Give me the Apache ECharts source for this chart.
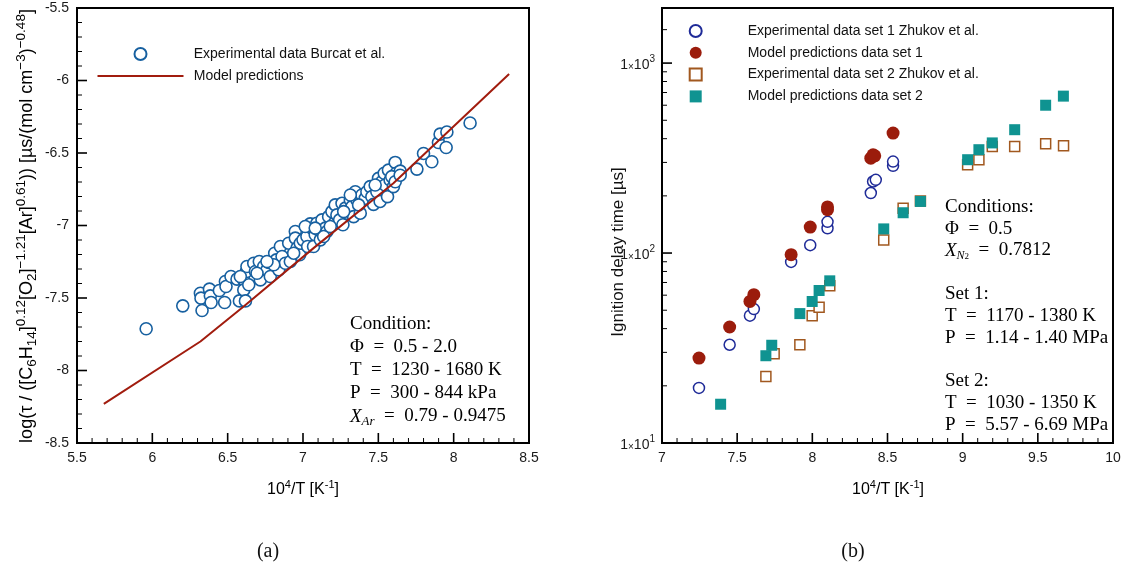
<!DOCTYPE html>
<html><head><meta charset="utf-8">
<script src="https://cdn.jsdelivr.net/npm/echarts@6/dist/echarts.min.js"></script>
<style>
html,body{margin:0;padding:0;background:#fff}
#wrap{position:relative;width:1129px;height:573px}
.layer{position:absolute;left:0;top:0;width:1129px;height:573px}
</style>
</head><body><div id="wrap"><div class="layer" id="cl"></div><div class="layer" id="cr"></div></div>
<script>
// ---------- Panel (a) data ----------
const burcatExp = [
[5.959,-7.712],[6.202,-7.554],[6.330,-7.586],[6.319,-7.467],[6.323,-7.501],[6.379,-7.439],[6.385,-7.485],
[6.390,-7.531],[6.445,-7.448],[6.480,-7.531],[6.485,-7.386],[6.489,-7.421],[6.522,-7.352],[6.562,-7.370],
[6.578,-7.520],[6.607,-7.375],[6.607,-7.444],[6.618,-7.520],[6.624,-7.317],[6.628,-7.283],[6.640,-7.409],
[6.673,-7.260],[6.684,-7.317],[6.710,-7.248],[6.717,-7.375],[6.739,-7.283],[6.761,-7.306],[6.772,-7.255],
[6.783,-7.352],[6.812,-7.191],[6.823,-7.237],[6.839,-7.306],[6.850,-7.145],[6.861,-7.214],[6.883,-7.260],
[6.905,-7.122],[6.916,-7.248],[6.949,-7.041],[6.949,-7.087],[6.960,-7.156],[6.978,-7.202],[6.982,-7.122],
[7.000,-7.099],[7.026,-7.076],[7.031,-7.145],[7.048,-6.989],[7.059,-7.018],[7.070,-7.145],[7.081,-7.064],
[7.092,-6.984],[7.103,-7.030],[7.115,-7.099],[7.126,-6.961],[7.148,-7.018],[7.159,-7.041],[7.170,-6.939],
[7.192,-6.904],[7.208,-6.984],[7.214,-6.858],[7.225,-6.927],[7.243,-6.961],[7.259,-6.847],[7.265,-6.995],
[7.281,-6.880],[7.292,-6.915],[7.314,-6.824],[7.325,-6.870],[7.336,-6.939],[7.347,-6.767],[7.358,-6.824],
[7.380,-6.915],[7.391,-6.790],[7.413,-6.813],[7.424,-6.767],[7.446,-6.732],[7.457,-6.801],[7.468,-6.854],
[7.490,-6.767],[7.501,-6.675],[7.512,-6.834],[7.523,-6.698],[7.539,-6.640],[7.545,-6.721],[7.561,-6.801],
[7.567,-6.618],[7.578,-6.686],[7.600,-6.732],[7.612,-6.565],[7.618,-6.640],[7.645,-6.625],[7.756,-6.611],
[7.800,-6.503],[7.855,-6.560],[7.899,-6.428],[7.910,-6.370],[7.950,-6.462],[7.955,-6.355],[8.109,-6.293],
[6.695,-7.329],[6.806,-7.271],[6.938,-7.191],[7.015,-7.007],[7.137,-7.076],[7.181,-7.007],[7.270,-6.904],
[7.369,-6.858],[7.479,-6.721],[7.589,-6.663],[6.584,-7.352],[6.761,-7.248],[7.081,-7.018],[7.314,-6.790],
[7.612,-6.698],[7.645,-6.653]
];
const modelLineX = [5.678, 6.319, 6.606, 7.070, 7.600, 8.368];
const modelLineY = [-8.230, -7.800, -7.559, -7.156, -6.708, -5.955];

// ---------- Panel (b) data ----------
const set1ExpX   = [7.246, 7.450, 7.585, 7.611, 7.859, 7.986, 8.101, 8.101, 8.389, 8.404, 8.422, 8.537, 8.537];
const set1ExpY   = [19.5, 32.9, 46.8, 50.7, 89.8, 110, 135, 146, 207, 238, 243, 288, 303];
const set1ModelX = [7.246, 7.450, 7.585, 7.611, 7.859, 7.986, 8.101, 8.101, 8.389, 8.404, 8.415, 8.537];
const set1ModelY = [28.0, 40.8, 55.6, 60.4, 98, 137, 169, 175, 316, 329, 325, 428];
const set2ExpX   = [7.691, 7.746, 7.917, 7.999, 8.045, 8.116, 8.475, 8.604, 8.719, 9.033, 9.108, 9.197, 9.346, 9.552, 9.671];
const set2ExpY   = [22.4, 29.5, 32.9, 46.8, 51.8, 67.3, 117, 172, 188, 292, 310, 364, 364, 376, 367];
const set2ModelX = [7.390, 7.691, 7.730, 7.917, 7.999, 8.045, 8.116, 8.475, 8.604, 8.719, 9.033, 9.108, 9.197, 9.346, 9.552, 9.670];
const set2ModelY = [16.0, 28.8, 32.7, 48.0, 55.6, 63.5, 71.4, 134, 163, 187, 310, 350, 380, 446, 600, 670];

// ---------- Tick values ----------
const aXMajor = [5.5, 6, 6.5, 7, 7.5, 8, 8.5];
const aXMinor = [5.6,5.7,5.8,5.9,6.1,6.2,6.3,6.4,6.6,6.7,6.8,6.9,7.1,7.2,7.3,7.4,7.6,7.7,7.8,7.9,8.1,8.2,8.3,8.4];
const aYMajor = [-8.5, -8, -7.5, -7, -6.5, -6, -5.5];
const aYMinor = [-8.4,-8.3,-8.2,-8.1,-7.9,-7.8,-7.7,-7.6,-7.4,-7.3,-7.2,-7.1,-6.9,-6.8,-6.7,-6.6,-6.4,-6.3,-6.2,-6.1,-5.9,-5.8,-5.7,-5.6];
const bXMajor = [7, 7.5, 8, 8.5, 9, 9.5, 10];
const bXMinor = [7.1,7.2,7.3,7.4,7.6,7.7,7.8,7.9,8.1,8.2,8.3,8.4,8.6,8.7,8.8,8.9,9.1,9.2,9.3,9.4,9.6,9.7,9.8,9.9];
const bYMajor = [10, 100, 1000];
const bYMinor = [20,30,40,50,60,70,80,90,200,300,400,500,600,700,800,900,1500];

const zip = (a, b) => a.map((v, i) => [v, b[i]]);

const SANS = 'Liberation Sans, Arial, Helvetica, sans-serif';
const SERIF = 'Liberation Serif, Times New Roman, serif';

const lbl = () => ({fontFamily: SANS, fontSize: 14, color: '#1a1a1a', margin: 8});

function valueAxis(min, max, interval) {
  return {type: 'value', min, max, interval,
    axisLine: {show: false}, axisTick: {show: false}, minorTick: {show: false},
    splitLine: {show: false}, minorSplitLine: {show: false}, axisLabel: lbl()};
}

// tick marks drawn through the axes' own scales (api.coord)
function tickSeries(values, dir, anchor, len, width) {
  return {
    type: 'custom', silent: true, clip: false, z: 10,
    data: values.map(v => dir === 'x' ? [v, anchor] : [anchor, v]),
    renderItem: (params, api) => {
      const p = api.coord([api.value(0), api.value(1)]);
      const shape = dir === 'x'
        ? {x1: p[0], y1: p[1], x2: p[0], y2: p[1] - len}
        : {x1: p[0], y1: p[1], x2: p[0] + len, y2: p[1]};
      return {type: 'line', shape, style: {stroke: '#000', lineWidth: width}};
    }
  };
}

const gridL = {left: 77, top: 8, width: 452, height: 435, show: true, borderColor: '#000', borderWidth: 2, backgroundColor: 'transparent'};
const gridR = {left: 662, top: 8, width: 451, height: 435, show: true, borderColor: '#000', borderWidth: 2, backgroundColor: 'transparent'};
const centered = {align: 'center', verticalAlign: 'middle', textAlign: 'center', textVerticalAlign: 'middle'};
const xTitle = (x) => ({
  type: 'text', x, y: 490,
  style: Object.assign({
    text: '{n|10}{p|4}{n|/T [K}{p|-1}{n|]}',
    rich: {
      n: {fontFamily: SANS, fontSize: 16, color: '#111', lineHeight: 22, verticalAlign: 'middle'},
      p: {fontFamily: SANS, fontSize: 11, color: '#111', lineHeight: 10, verticalAlign: 'top'}
    }
  }, centered)
});

// ---------------- Panel (a) ----------------
const chartL = echarts.init(document.getElementById('cl'));
chartL.setOption({
  animation: false,
  backgroundColor: '#fff',
  grid: gridL,
  xAxis: valueAxis(5.5, 8.5, 0.5),
  yAxis: valueAxis(-8.5, -5.5, 0.5),
  legend: {
    orient: 'vertical', left: 92.5, top: 42, itemWidth: 86.5, itemHeight: 12, itemGap: 8,
    data: ['Experimental data Burcat et al.',
           {name: 'Model predictions', icon: 'path://M0,0 M0,5.1 L86,5.1 L86,6.9 L0,6.9 Z M86,12'}],
    textStyle: {fontFamily: SANS, fontSize: 14, color: '#111', padding: [0, 0, 0, 5]},
    selectedMode: false
  },
  series: [
    {
      name: 'Experimental data Burcat et al.', type: 'scatter',
      data: burcatExp, symbol: 'circle', symbolSize: 12,
      itemStyle: {color: '#fff', borderColor: '#1760a0', borderWidth: 1.6, opacity: 1}
    },
    {
      name: 'Model predictions', type: 'line',
      data: zip(modelLineX, modelLineY), symbol: 'none', showSymbol: false, smooth: false,
      lineStyle: {color: '#a11c0e', width: 2},
      itemStyle: {color: '#a11c0e'}, z: 3
    },
    tickSeries(aXMajor, 'x', -8.5, 10, 1.6),
    tickSeries(aXMinor, 'x', -8.5, 5, 1),
    tickSeries(aYMajor, 'y', 5.5, 10, 1.6),
    tickSeries(aYMinor, 'y', 5.5, 5, 1)
  ],
  graphic: [
    {
      type: 'text', x: 27, y: 226, rotation: Math.PI / 2,
      style: Object.assign({
        text: '{n|log(τ / ([C}{b|6}{n|H}{b|14}{n|]}{p|0.12}{n|[O}{b|2}{n|]}{p|−1.21}{n|[Ar]}{p|0.61}{n|)) [µs/(mol cm}{p|−3}{n|)}{p|−0.48}{n|]}',
        rich: {
          n: {fontFamily: SANS, fontSize: 18, color: '#111', lineHeight: 25, verticalAlign: 'middle'},
          p: {fontFamily: SANS, fontSize: 13.5, color: '#111', lineHeight: 12, verticalAlign: 'top'},
          b: {fontFamily: SANS, fontSize: 13.5, color: '#111', lineHeight: 12, verticalAlign: 'bottom'}
        }
      }, centered)
    },
    xTitle(303),
    {
      type: 'text', x: 350, y: 313,
      style: {
        text: ['{t|Condition:}', '{t|Φ  =  0.5 - 2.0}', '{t|T  =  1230 - 1680 K}', '{t|P  =  300 - 844 kPa}',
               '{i|X}{s|Ar}{t|  =  0.79 - 0.9475}'].join('\n'),
        align: 'left', verticalAlign: 'top', textAlign: 'left', textVerticalAlign: 'top',
        rich: {
          t: {fontFamily: SERIF, fontSize: 19, color: '#111', lineHeight: 23, verticalAlign: 'middle'},
          i: {fontFamily: SERIF, fontStyle: 'italic', fontSize: 19, color: '#111', lineHeight: 23, verticalAlign: 'middle'},
          s: {fontFamily: SERIF, fontStyle: 'italic', fontSize: 13, color: '#111', lineHeight: 14, verticalAlign: 'bottom'}
        }
      }
    },
    {type: 'text', x: 268, y: 552, style: Object.assign({text: '(a)', font: '20px ' + SERIF, fill: '#111'}, centered)}
  ]
});

// ---------------- Panel (b) ----------------
const chartR = echarts.init(document.getElementById('cr'));
chartR.setOption({
  animation: false,
  backgroundColor: 'transparent',
  grid: gridR,
  xAxis: valueAxis(7, 10, 0.5),
  yAxis: {
    type: 'log', min: 10, max: 1950, logBase: 10,
    axisLine: {show: false},
    axisTick: {show: false},
    splitLine: {show: false},
    axisLabel: {
      customValues: bYMajor,
      margin: 7,
      formatter: v => '{a|1}{x|×}{a|10}{s|' + Math.round(Math.log10(v)) + '}',
      rich: {
        a: {fontFamily: SANS, fontSize: 14, color: '#1a1a1a', lineHeight: 18, verticalAlign: 'bottom'},
        x: {fontFamily: SANS, fontSize: 10, color: '#1a1a1a', lineHeight: 16, verticalAlign: 'bottom'},
        s: {fontFamily: SANS, fontSize: 10, color: '#1a1a1a', lineHeight: 10, verticalAlign: 'top'}
      }
    }
  },
  legend: {
    orient: 'vertical', left: 683.7, top: 19, itemWidth: 12, itemHeight: 12, itemGap: 7.8,
    data: ['Experimental data set 1 Zhukov et al.', 'Model predictions data set 1',
           'Experimental data set 2 Zhukov et al.', 'Model predictions data set 2'],
    textStyle: {fontFamily: SANS, fontSize: 14, color: '#111', padding: [0, 0, 0, 41]},
    selectedMode: false
  },
  series: [
    {
      name: 'Experimental data set 1 Zhukov et al.', type: 'scatter',
      data: zip(set1ExpX, set1ExpY), symbol: 'circle', symbolSize: 11,
      itemStyle: {color: '#fff', borderColor: '#1f2b98', borderWidth: 1.5, opacity: 1}
    },
    {
      name: 'Model predictions data set 1', type: 'scatter',
      data: zip(set1ModelX, set1ModelY), symbol: 'circle', symbolSize: 13,
      itemStyle: {color: '#9b1c0c', opacity: 1}
    },
    {
      name: 'Experimental data set 2 Zhukov et al.', type: 'scatter',
      data: zip(set2ExpX, set2ExpY), symbol: 'rect', symbolSize: 10,
      itemStyle: {color: '#fff', borderColor: '#a1581f', borderWidth: 1.5, opacity: 1}
    },
    {
      name: 'Model predictions data set 2', type: 'scatter',
      data: zip(set2ModelX, set2ModelY), symbol: 'rect', symbolSize: 11,
      itemStyle: {color: '#0f9391', opacity: 1}
    },
    tickSeries(bXMajor, 'x', 10, 10, 1.6),
    tickSeries(bXMinor, 'x', 10, 5, 1),
    tickSeries(bYMajor, 'y', 7, 10, 1.6),
    tickSeries(bYMinor, 'y', 7, 5, 1)
  ],
  graphic: [
    {
      type: 'text', x: 618, y: 252, rotation: Math.PI / 2,
      style: Object.assign({text: 'Ignition delay time [µs]', font: '17px ' + SANS, fill: '#111'}, centered)
    },
    xTitle(888),
    {
      type: 'text', x: 945, y: 196,
      style: {
        text: ['{t|Conditions:}', '{t|Φ  =  0.5}', '{i|X}{s|N}{ss|2}{t|  =  0.7812}', '{t| }',
               '{t|Set 1:}', '{t|T  =  1170 - 1380 K}', '{t|P  =  1.14 - 1.40 MPa}', '{t| }',
               '{t|Set 2:}', '{t|T  =  1030 - 1350 K}', '{t|P  =  5.57 - 6.69 MPa}'].join('\n'),
        align: 'left', verticalAlign: 'top', textAlign: 'left', textVerticalAlign: 'top',
        rich: {
          t: {fontFamily: SERIF, fontSize: 19, color: '#111', lineHeight: 21.8, verticalAlign: 'middle'},
          i: {fontFamily: SERIF, fontStyle: 'italic', fontSize: 19, color: '#111', lineHeight: 21.8, verticalAlign: 'middle'},
          s: {fontFamily: SERIF, fontStyle: 'italic', fontSize: 12, color: '#111', lineHeight: 14, verticalAlign: 'bottom'},
          ss: {fontFamily: SERIF, fontSize: 9, color: '#111', lineHeight: 10, verticalAlign: 'bottom'}
        }
      }
    },
    {type: 'text', x: 853, y: 552, style: Object.assign({text: '(b)', font: '20px ' + SERIF, fill: '#111'}, centered)}
  ]
});
</script>
</body></html>
